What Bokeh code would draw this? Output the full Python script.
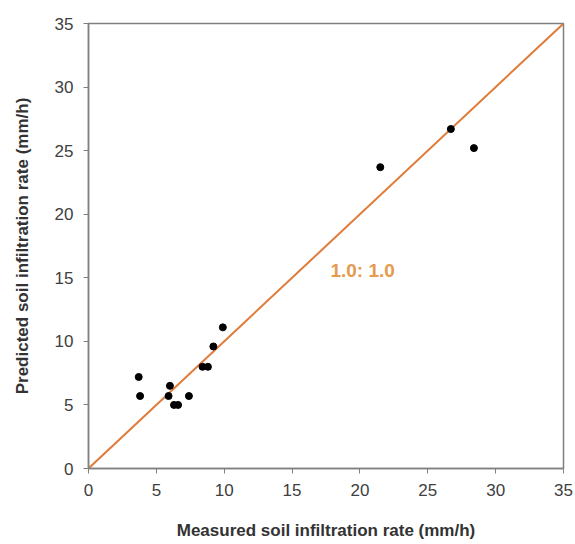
from bokeh.plotting import figure
from bokeh.models import Range1d, FixedTicker, Label
from bokeh.embed import file_html
from bokeh.resources import INLINE

measured = [3.7, 3.8, 6.0, 5.9, 6.3, 6.6, 7.4, 8.4, 8.8, 9.2, 9.9, 21.5, 26.7, 28.4]
predicted = [7.2, 5.7, 6.5, 5.7, 5.0, 5.0, 5.7, 8.0, 8.0, 9.6, 11.1, 23.7, 26.7, 25.2]
line_x = [0, 35]
line_y = [0, 35]
ticks = [0, 5, 10, 15, 20, 25, 30, 35]

p = figure(width=575, height=544, output_backend="svg", toolbar_location=None,
           x_range=Range1d(0, 35), y_range=Range1d(0, 35),
           min_border_left=88, min_border_right=12, min_border_top=23, min_border_bottom=76)
p.grid.visible = False
p.outline_line_color = "#808080"
p.outline_line_width = 1.5
p.background_fill_color = "white"
p.border_fill_color = "white"

p.line(line_x, line_y, line_color="#E07B39", line_width=2)
p.scatter(measured, predicted, size=7, color="black")

p.add_layout(Label(x=20.2, y=15.6, text="1.0: 1.0", text_color="#E69A4E",
                   text_font="Liberation Sans", text_font_style="bold",
                   text_font_size="19px", text_align="center", text_baseline="middle"))

for ax in (p.xaxis[0], p.yaxis[0]):
    ax.ticker = FixedTicker(ticks=ticks)
    ax.axis_line_color = "#808080"
    ax.axis_line_width = 1.5
    ax.major_tick_line_color = "#808080"
    ax.major_tick_out = 5
    ax.major_tick_in = 0
    ax.minor_tick_line_color = None
    ax.major_label_text_font = "Liberation Sans"
    ax.major_label_text_font_size = "17px"
    ax.major_label_text_color = "#404040"
    ax.axis_label_text_font = "Liberation Sans"
    ax.axis_label_text_font_style = "bold"
    ax.axis_label_text_font_size = "17px"
    ax.axis_label_text_color = "#333333"

p.xaxis.axis_label = "Measured soil infiltration rate (mm/h)"
p.yaxis.axis_label = "Predicted soil infiltration rate (mm/h)"
p.xaxis.major_label_standoff = 10
p.xaxis.axis_label_standoff = 22
p.yaxis.major_label_standoff = 10
p.yaxis.axis_label_standoff = 20

open("out.html", "w").write(file_html(p, INLINE))
